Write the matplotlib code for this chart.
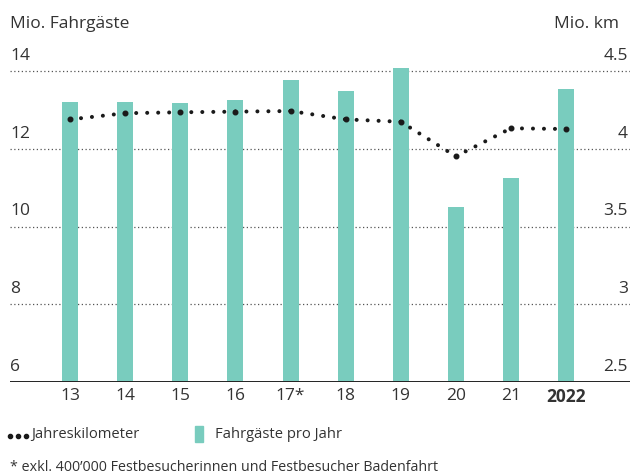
import matplotlib
matplotlib.use("Agg")
import matplotlib.pyplot as plt
import matplotlib.transforms as mtransforms
from matplotlib.lines import Line2D
from matplotlib.patches import Rectangle

plt.rcParams['font.family'] = ['Open Sans', 'DejaVu Sans']

years = ["13", "14", "15", "16", "17*", "18", "19", "20", "21", "2022"]
passengers = [13.21, 13.21, 13.18, 13.26, 13.78, 13.49, 14.08, 10.50, 11.25, 13.54]
km = [4.19, 4.23, 4.236, 4.24, 4.244, 4.19, 4.175, 3.952, 4.133, 4.128]
left_ticks = [6, 8, 10, 12, 14]
right_ticks = [2.5, 3, 3.5, 4, 4.5]
right_labels = ["2.5", "3", "3.5", "4", "4.5"]

bar_color = "#79ccbe"
text_color = "#333333"

W, H = 631, 477
fig = plt.figure(figsize=(W / 100, H / 100), dpi=100)
ax_left, ax_right_px = 10, 630
ax_bottom_px, ax_top_px = 382.7, 52.9
ax = fig.add_axes([ax_left / W, 1 - ax_bottom_px / H,
                   (ax_right_px - ax_left) / W, (ax_bottom_px - ax_top_px) / H])
ax2 = ax.twinx()

x = list(range(len(years)))
ax.bar(x, passengers, width=0.29, color=bar_color, zorder=2)
ax.set_ylim(6, 14.5)
ax.set_xlim(-1.09, 10.16)
ax2.set_ylim(2.5, 4.625)

# gridlines
for v in left_ticks[1:]:
    ax.axhline(v, color="#555555", lw=0.9, ls=(0, (1, 2)), zorder=1)
ax.axhline(6, color="#222222", lw=1.4, zorder=3)

# dotted line, each segment starts on its data point
for i in range(len(x) - 1):
    ax2.plot(x[i:i + 2], km[i:i + 2], color="#1a1a1a", lw=2.9,
             ls=(0, (0.01, 2.72)), dash_capstyle="round", zorder=4)
ax2.plot(x, km, ls="none", marker="o", ms=3.3, color="#1a1a1a", zorder=4)

for a in (ax, ax2):
    for s in a.spines.values():
        s.set_visible(False)
    a.set_yticks([])
    a.tick_params(length=0)
ax.set_xticks(x)
ax.set_xticklabels(years, fontsize=12.5, color=text_color)
ax.get_xticklabels()[-1].set_fontweight("bold")
ax.tick_params(axis="x", pad=4)

trans_l = mtransforms.offset_copy(ax.get_yaxis_transform(), fig=fig, x=0, y=8, units="dots")
for v in left_ticks:
    ax.text(0.0, v, str(v), transform=trans_l, ha="left", va="bottom",
            fontsize=12.5, color=text_color)
trans_r = mtransforms.offset_copy(ax2.get_yaxis_transform(), fig=fig, x=-2, y=8, units="dots")
for v, lab in zip(right_ticks, right_labels):
    ax2.text(1.0, v, lab, transform=trans_r, ha="right", va="bottom",
             fontsize=12.5, color=text_color)

fig.text(10 / W, 1 - 24 / H, "Mio. Fahrgäste", ha="left", va="center",
         fontsize=12.5, color=text_color)
fig.text(619 / W, 1 - 24 / H, "Mio. km", ha="right", va="center",
         fontsize=12.5, color=text_color)

# legend
fig.add_artist(Line2D([10 / W, 18 / W, 26 / W], [1 - 437 / H] * 3, ls="none",
                      marker="o", ms=3.0, color="#1a1a1a"))
fig.text(31 / W, 1 - 435 / H, "Jahreskilometer", ha="left", va="center",
         fontsize=10.6, color=text_color)
fig.add_artist(Rectangle((195 / W, 1 - 443 / H), 8 / W, 16 / H,
                         transform=fig.transFigure, color=bar_color))
fig.text(215 / W, 1 - 435 / H, "Fahrgäste pro Jahr", ha="left", va="center",
         fontsize=10.6, color=text_color)
fig.text(10 / W, 1 - 468 / H,
         "* exkl. 400\u2019000 Festbesucherinnen und Festbesucher Badenfahrt",
         ha="left", va="center", fontsize=10.3, color=text_color)

fig.savefig("out.png", dpi=100)
